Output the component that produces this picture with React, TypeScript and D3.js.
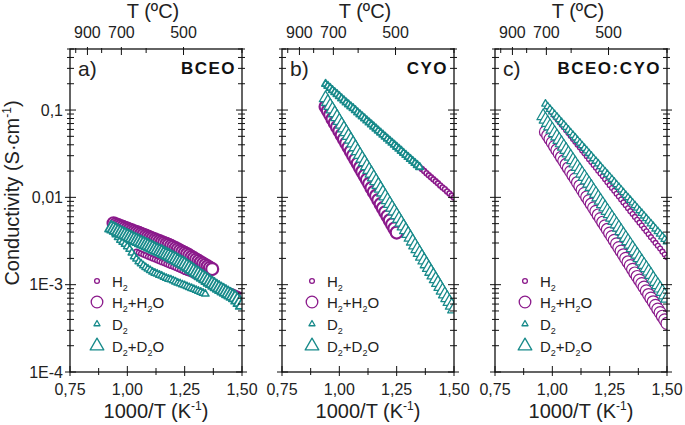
import React from "react";
import * as d3 from "d3";

// ---------- axis / text data ----------
const xTicks = [0.75, 1.0, 1.25, 1.5];
const xTickLabels = ["0,75", "1,00", "1,25", "1,50"];
const xMinorTicks = [0.875, 1.125, 1.375];
const yTicks = [1e-4, 1e-3, 1e-2, 1e-1];
const yTickLabels = ["1E-4", "1E-3", "0,01", "0,1"];
const topTemps = [1000, 900, 800, 700, 600, 500, 400];
const topTempPos = [0.775, 0.826, 0.888, 0.974, 1.082, 1.245, 1.5];
const topTempLabeled = [900, 700, 500];
const panelLetters = ["a)", "b)", "c)"];
const panelNames = ["BCEO", "CYO", "BCEO:CYO"];
const legendLabels: [string, boolean][][] = [
  [["H", false], ["2", true]],
  [["H", false], ["2", true], ["+H", false], ["2", true], ["O", false]],
  [["D", false], ["2", true]],
  [["D", false], ["2", true], ["+D", false], ["2", true], ["O", false]],
];

// ---------- panel a) BCEO ----------
const aH2X = [1.04, 1.05, 1.06, 1.07, 1.08, 1.09, 1.1, 1.11, 1.12, 1.13, 1.14, 1.15, 1.16, 1.17, 1.18, 1.19, 1.2, 1.21, 1.22, 1.23, 1.24, 1.25, 1.26, 1.27, 1.28, 1.29, 1.3, 1.31, 1.32, 1.33, 1.34, 1.35, 1.36, 1.37, 1.38, 1.39, 1.4, 1.41, 1.42, 1.43, 1.44, 1.45, 1.46, 1.47, 1.48, 1.49, 1.5];
const aH2Y = [0.00239, 0.00233, 0.00227, 0.00221, 0.00216, 0.0021, 0.00205, 0.002, 0.00195, 0.0019, 0.00186, 0.00181, 0.00177, 0.00172, 0.00168, 0.00164, 0.0016, 0.00156, 0.00152, 0.00148, 0.00144, 0.0014, 0.00137, 0.00134, 0.00131, 0.00127, 0.00124, 0.00121, 0.00118, 0.00115, 0.00112, 0.0011, 0.00107, 0.00104, 0.00101, 0.000988, 0.000966, 0.000942, 0.000918, 0.000895, 0.000873, 0.000851, 0.00083, 0.000809, 0.000789, 0.000769, 0.00075];
const aH2H2OX = [0.94, 0.95, 0.96, 0.97, 0.98, 0.99, 1.0, 1.01, 1.02, 1.03, 1.04, 1.05, 1.06, 1.07, 1.08, 1.09, 1.1, 1.11, 1.12, 1.13, 1.14, 1.15, 1.16, 1.17, 1.18, 1.19, 1.2, 1.21, 1.22, 1.23, 1.24, 1.25, 1.26, 1.27, 1.28, 1.29, 1.3, 1.31, 1.32, 1.33, 1.34, 1.35, 1.36, 1.37];
const aH2H2OY = [0.00505, 0.00492, 0.0048, 0.00469, 0.00458, 0.00448, 0.00438, 0.00428, 0.00418, 0.00409, 0.004, 0.00391, 0.00382, 0.00373, 0.00364, 0.00355, 0.00346, 0.00338, 0.0033, 0.00322, 0.00315, 0.00307, 0.003, 0.00293, 0.00286, 0.00278, 0.0027, 0.00262, 0.00254, 0.00246, 0.00238, 0.00231, 0.00224, 0.00216, 0.00208, 0.00201, 0.00194, 0.00187, 0.0018, 0.00174, 0.00168, 0.00162, 0.00156, 0.00151];
const aD2X = [0.93, 0.94, 0.95, 0.96, 0.97, 0.98, 0.99, 1.0, 1.01, 1.02, 1.03, 1.04, 1.05, 1.06, 1.07, 1.08, 1.09, 1.1, 1.11, 1.12, 1.13, 1.14, 1.15, 1.16, 1.17, 1.18, 1.19, 1.2, 1.21, 1.22, 1.23, 1.24, 1.25, 1.26, 1.27, 1.28, 1.29, 1.3, 1.31, 1.32, 1.33, 1.34];
const aD2Y = [0.0044, 0.00406, 0.00374, 0.00349, 0.00325, 0.00308, 0.00291, 0.00273, 0.00255, 0.00232, 0.0021, 0.00197, 0.00184, 0.00174, 0.00165, 0.00158, 0.00152, 0.00146, 0.0014, 0.00136, 0.00133, 0.00129, 0.00126, 0.00122, 0.00119, 0.00116, 0.00114, 0.00111, 0.00108, 0.00105, 0.00103, 0.001, 0.00098, 0.000956, 0.000932, 0.00091, 0.000887, 0.000866, 0.000845, 0.000824, 0.000803, 0.000784];
const aD2D2OX = [0.93, 0.94, 0.95, 0.96, 0.97, 0.98, 0.99, 1.0, 1.01, 1.02, 1.03, 1.04, 1.05, 1.06, 1.07, 1.08, 1.09, 1.1, 1.11, 1.12, 1.13, 1.14, 1.15, 1.16, 1.17, 1.18, 1.19, 1.2, 1.21, 1.22, 1.23, 1.24, 1.25, 1.26, 1.27, 1.28, 1.29, 1.3, 1.31, 1.32, 1.33, 1.34, 1.35, 1.36, 1.37, 1.38, 1.39, 1.4, 1.41, 1.42, 1.43, 1.44, 1.45, 1.46, 1.47, 1.48, 1.49, 1.5];
const aD2D2OY = [0.00446, 0.00433, 0.0042, 0.00407, 0.00395, 0.00383, 0.00372, 0.00361, 0.00351, 0.0034, 0.0033, 0.00321, 0.00312, 0.00303, 0.00294, 0.00286, 0.00279, 0.00271, 0.00263, 0.00255, 0.00248, 0.00241, 0.00235, 0.00228, 0.00222, 0.00215, 0.00208, 0.00201, 0.00195, 0.00188, 0.00182, 0.00176, 0.0017, 0.00163, 0.00157, 0.0015, 0.00144, 0.00138, 0.00133, 0.00127, 0.00122, 0.00117, 0.00112, 0.00107, 0.00103, 0.000988, 0.000948, 0.000913, 0.000879, 0.000849, 0.000819, 0.00079, 0.000762, 0.000736, 0.00071, 0.000666, 0.000624, 0.00058];

// ---------- panel b) CYO ----------
const bH2X = [0.96, 0.97, 0.98, 0.99, 1.0, 1.01, 1.02, 1.03, 1.04, 1.05, 1.06, 1.07, 1.08, 1.09, 1.1, 1.11, 1.12, 1.13, 1.14, 1.15, 1.16, 1.17, 1.18, 1.19, 1.2, 1.21, 1.22, 1.23, 1.24, 1.25, 1.26, 1.27, 1.28, 1.29, 1.3, 1.31, 1.32, 1.33, 1.34, 1.35, 1.36, 1.37, 1.38, 1.39, 1.4, 1.41, 1.42, 1.43, 1.44, 1.45, 1.46, 1.47, 1.48, 1.49, 1.5];
const bH2Y = [0.179, 0.169, 0.16, 0.152, 0.144, 0.136, 0.129, 0.122, 0.116, 0.11, 0.105, 0.0994, 0.094, 0.0891, 0.0845, 0.0801, 0.0759, 0.072, 0.0682, 0.0646, 0.0613, 0.0581, 0.0551, 0.0522, 0.0495, 0.0469, 0.0445, 0.0422, 0.04, 0.0379, 0.036, 0.0341, 0.0323, 0.0306, 0.029, 0.0275, 0.0261, 0.0247, 0.0234, 0.0222, 0.0211, 0.02, 0.0189, 0.0179, 0.017, 0.0161, 0.0153, 0.0145, 0.0137, 0.013, 0.0124, 0.0117, 0.0111, 0.0105, 0.00998];
const bH2H2OX = [0.94, 0.95, 0.96, 0.97, 0.98, 0.99, 1.0, 1.01, 1.02, 1.03, 1.04, 1.05, 1.06, 1.07, 1.08, 1.09, 1.1, 1.11, 1.12, 1.13, 1.14, 1.15, 1.16, 1.17, 1.18, 1.19, 1.2, 1.21, 1.22, 1.23, 1.24, 1.25];
const bH2H2OY = [0.109, 0.098, 0.0881, 0.0791, 0.0711, 0.0639, 0.0574, 0.0516, 0.0463, 0.0416, 0.0374, 0.0336, 0.0302, 0.0271, 0.0244, 0.0219, 0.0197, 0.0177, 0.0159, 0.0143, 0.0128, 0.0115, 0.0104, 0.00932, 0.00836, 0.00751, 0.00675, 0.00607, 0.00545, 0.0049, 0.0044, 0.00395];
const bD2X = [0.94, 0.95, 0.96, 0.97, 0.98, 0.99, 1.0, 1.01, 1.02, 1.03, 1.04, 1.05, 1.06, 1.07, 1.08, 1.09, 1.1, 1.11, 1.12, 1.13, 1.14, 1.15, 1.16, 1.17, 1.18, 1.19, 1.2, 1.21, 1.22, 1.23, 1.24, 1.25, 1.26, 1.27, 1.28, 1.29, 1.3, 1.31, 1.32, 1.33, 1.34, 1.35];
const bD2Y = [0.199, 0.189, 0.179, 0.169, 0.16, 0.152, 0.144, 0.136, 0.129, 0.122, 0.116, 0.11, 0.105, 0.0994, 0.094, 0.0891, 0.0845, 0.0801, 0.0759, 0.072, 0.0682, 0.0646, 0.0613, 0.0581, 0.0551, 0.0522, 0.0495, 0.0469, 0.0445, 0.0422, 0.04, 0.0379, 0.036, 0.0341, 0.0323, 0.0306, 0.029, 0.0275, 0.0261, 0.0247, 0.0234, 0.0222];
const bD2D2OX = [0.94, 0.95, 0.96, 0.97, 0.98, 0.99, 1.0, 1.01, 1.02, 1.03, 1.04, 1.05, 1.06, 1.07, 1.08, 1.09, 1.1, 1.11, 1.12, 1.13, 1.14, 1.15, 1.16, 1.17, 1.18, 1.19, 1.2, 1.21, 1.22, 1.23, 1.24, 1.25, 1.26, 1.27, 1.28, 1.29, 1.3, 1.31, 1.32, 1.33, 1.34, 1.35, 1.36, 1.37, 1.38, 1.39, 1.4, 1.41, 1.42, 1.43, 1.44, 1.45, 1.46, 1.47, 1.48, 1.49, 1.5];
const bD2D2OY = [0.137, 0.124, 0.112, 0.102, 0.0921, 0.0834, 0.0755, 0.0683, 0.0618, 0.056, 0.0507, 0.0459, 0.0416, 0.0376, 0.034, 0.0308, 0.0279, 0.0253, 0.0229, 0.0207, 0.0188, 0.017, 0.0154, 0.0139, 0.0126, 0.0114, 0.0103, 0.00933, 0.00846, 0.00766, 0.00693, 0.00628, 0.00569, 0.00515, 0.00466, 0.00422, 0.00382, 0.00346, 0.00313, 0.00283, 0.00256, 0.00232, 0.0021, 0.0019, 0.00172, 0.00156, 0.00141, 0.00128, 0.00116, 0.00105, 0.000948, 0.000859, 0.000778, 0.000704, 0.000637, 0.000577, 0.000523];

// ---------- panel c) BCEO:CYO ----------
const cH2X = [0.98, 0.99, 1.0, 1.01, 1.02, 1.03, 1.04, 1.05, 1.06, 1.07, 1.08, 1.09, 1.1, 1.11, 1.12, 1.13, 1.14, 1.15, 1.16, 1.17, 1.18, 1.19, 1.2, 1.21, 1.22, 1.23, 1.24, 1.25, 1.26, 1.27, 1.28, 1.29, 1.3, 1.31, 1.32, 1.33, 1.34, 1.35, 1.36, 1.37, 1.38, 1.39, 1.4, 1.41, 1.42, 1.43, 1.44, 1.45, 1.46, 1.47, 1.48, 1.49, 1.5];
const cH2Y = [0.108, 0.1, 0.0929, 0.0861, 0.0798, 0.0739, 0.0684, 0.0634, 0.0587, 0.0544, 0.0504, 0.0467, 0.0433, 0.0401, 0.0372, 0.0345, 0.0319, 0.0296, 0.0274, 0.0254, 0.0235, 0.0218, 0.0202, 0.0187, 0.0174, 0.0161, 0.0149, 0.0138, 0.0128, 0.0119, 0.011, 0.0102, 0.00944, 0.00875, 0.00811, 0.00751, 0.00695, 0.00644, 0.00597, 0.00553, 0.00513, 0.00475, 0.0044, 0.00408, 0.00378, 0.0035, 0.00325, 0.00301, 0.00279, 0.00259, 0.00239, 0.00221, 0.00206];
const cH2H2OX = [0.97, 0.98, 0.99, 1.0, 1.01, 1.02, 1.03, 1.04, 1.05, 1.06, 1.07, 1.08, 1.09, 1.1, 1.11, 1.12, 1.13, 1.14, 1.15, 1.16, 1.17, 1.18, 1.19, 1.2, 1.21, 1.22, 1.23, 1.24, 1.25, 1.26, 1.27, 1.28, 1.29, 1.3, 1.31, 1.32, 1.33, 1.34, 1.35, 1.36, 1.37, 1.38, 1.39, 1.4, 1.41, 1.42, 1.43, 1.44, 1.45, 1.46, 1.47, 1.48, 1.49, 1.5];
const cH2H2OY = [0.0562, 0.0511, 0.0465, 0.0423, 0.0384, 0.0349, 0.0317, 0.0288, 0.0262, 0.0238, 0.0217, 0.0197, 0.0179, 0.0163, 0.0148, 0.0135, 0.0122, 0.0111, 0.0101, 0.00918, 0.00835, 0.00759, 0.00691, 0.00628, 0.00571, 0.00519, 0.00472, 0.00429, 0.0039, 0.00355, 0.00322, 0.00293, 0.00266, 0.00242, 0.0022, 0.002, 0.00182, 0.00165, 0.0015, 0.00136, 0.00124, 0.00113, 0.00103, 0.000936, 0.000848, 0.000771, 0.000701, 0.000637, 0.000579, 0.000526, 0.000479, 0.000435, 0.000396, 0.00036];
const cD2X = [0.97, 0.98, 0.99, 1.0, 1.01, 1.02, 1.03, 1.04, 1.05, 1.06, 1.07, 1.08, 1.09, 1.1, 1.11, 1.12, 1.13, 1.14, 1.15, 1.16, 1.17, 1.18, 1.19, 1.2, 1.21, 1.22, 1.23, 1.24, 1.25, 1.26, 1.27, 1.28, 1.29, 1.3, 1.31, 1.32, 1.33, 1.34, 1.35, 1.36, 1.37, 1.38, 1.39, 1.4, 1.41, 1.42, 1.43, 1.44, 1.45, 1.46, 1.47, 1.48, 1.49, 1.5];
const cD2Y = [0.1175, 0.1097, 0.1023, 0.0955, 0.0893, 0.0834, 0.0778, 0.0726, 0.0679, 0.0634, 0.0592, 0.0553, 0.0516, 0.0482, 0.045, 0.042, 0.0392, 0.0366, 0.0342, 0.0319, 0.0298, 0.0278, 0.026, 0.0243, 0.0226, 0.0211, 0.0197, 0.0184, 0.0172, 0.0161, 0.015, 0.014, 0.0131, 0.0122, 0.0114, 0.0106, 0.00993, 0.00927, 0.00866, 0.00809, 0.00755, 0.00705, 0.00658, 0.00614, 0.00574, 0.00536, 0.005, 0.00467, 0.00436, 0.00407, 0.0038, 0.00355, 0.00331, 0.0031];
const cD2D2OX = [0.96, 0.97, 0.98, 0.99, 1.0, 1.01, 1.02, 1.03, 1.04, 1.05, 1.06, 1.07, 1.08, 1.09, 1.1, 1.11, 1.12, 1.13, 1.14, 1.15, 1.16, 1.17, 1.18, 1.19, 1.2, 1.21, 1.22, 1.23, 1.24, 1.25, 1.26, 1.27, 1.28, 1.29, 1.3, 1.31, 1.32, 1.33, 1.34, 1.35, 1.36, 1.37, 1.38, 1.39, 1.4, 1.41, 1.42, 1.43, 1.44, 1.45, 1.46, 1.47, 1.48, 1.49, 1.5];
const cD2D2OY = [0.0853, 0.078, 0.0714, 0.0653, 0.0598, 0.0547, 0.05, 0.0457, 0.0418, 0.0382, 0.035, 0.032, 0.0293, 0.0268, 0.0245, 0.0224, 0.0205, 0.0188, 0.0172, 0.0157, 0.0144, 0.0132, 0.012, 0.011, 0.01005, 0.00919, 0.00841, 0.00769, 0.00704, 0.00644, 0.00589, 0.00539, 0.00493, 0.00451, 0.00412, 0.00377, 0.00345, 0.00316, 0.00289, 0.00264, 0.00242, 0.00221, 0.00202, 0.00185, 0.00169, 0.00155, 0.00142, 0.0013, 0.00118, 0.00108, 0.000991, 0.000907, 0.000829, 0.000758, 0.000694];

const panelSeries = [
  [[aH2X, aH2Y], [aH2H2OX, aH2H2OY], [aD2X, aD2Y], [aD2D2OX, aD2D2OY]],
  [[bH2X, bH2Y], [bH2H2OX, bH2H2OY], [bD2X, bD2Y], [bD2D2OX, bD2D2OY]],
  [[cH2X, cH2Y], [cH2H2OX, cH2H2OY], [cD2X, cD2Y], [cD2D2OX, cD2D2OY]],
];

// ---------- layout / style ----------
const W = 685;
const H = 425;
const panelLeft = [70, 282, 495];
const plotW = 172;
const plotTop = 49;
const plotBottom = 372;
const legendMarkerOffset = [27, 30, 30];
const purple = "#8b1a8b";
const teal = "#178a8a";
const seriesColor = [purple, purple, teal, teal];
// marker outline widths per panel / series (denser data look more solid)
const markerStroke = [
  [1.5, 2.2, 1.5, 1.8],
  [1.6, 2.2, 1.8, 1.3],
  [1.3, 1.2, 1.3, 1.2],
];
const FONT = "'Liberation Sans', Arial, sans-serif";

const triSmall = d3.symbol(d3.symbolTriangle, 24)() as string;
const triBig = d3.symbol(d3.symbolTriangle, 68)() as string;
const triLegSmall = d3.symbol(d3.symbolTriangle, 16)() as string;
const triLegBig = d3.symbol(d3.symbolTriangle, 80)() as string;

function Marker({ kind, x, y, legend, sw }: { kind: number; x: number; y: number; legend?: boolean; sw: number }) {
  const c = seriesColor[kind];
  if (kind === 0) return <circle cx={x} cy={y} r={2.4} fill="white" stroke={c} strokeWidth={sw} />;
  if (kind === 1) return <circle cx={x} cy={y} r={legend ? 5.8 : 6} fill="white" stroke={c} strokeWidth={sw} />;
  if (kind === 2)
    return <path d={legend ? triLegSmall : triSmall} transform={`translate(${x},${y})`} fill="white" stroke={c} strokeWidth={sw} strokeLinejoin="round" />;
  return <path d={legend ? triLegBig : triBig} transform={`translate(${x},${y})`} fill="white" stroke={c} strokeWidth={sw} strokeLinejoin="round" />;
}

function LegendText({ parts, x, y }: { parts: [string, boolean][]; x: number; y: number }) {
  let prevSub = false;
  return (
    <text x={x} y={y} fontSize={15} fontFamily={FONT} fill="#222">
      {parts.map(([t, sub], i) => {
        let dy = 0;
        if (sub && !prevSub) dy = 4;
        if (!sub && prevSub) dy = -4;
        prevSub = sub;
        return (
          <tspan key={i} dy={dy} fontSize={sub ? 9 : 15}>
            {t}
          </tspan>
        );
      })}
    </text>
  );
}

function Panel({ idx }: { idx: number }) {
  const left = panelLeft[idx];
  const right = left + plotW;
  const x = d3.scaleLinear().domain([0.75, 1.5]).range([left, right]);
  const y = d3.scaleLog().domain([1e-4, 0.5]).range([plotBottom, plotTop]);
  const yAll = y.ticks();
  const isMajorY = (v: number) => Math.abs(Math.log10(v) - Math.round(Math.log10(v))) < 1e-6;
  const clipId = `clip${idx}`;
  const cx = (left + right) / 2;
  const legX = left + legendMarkerOffset[idx];
  const legRows = [281, 302, 324, 346];

  return (
    <g>
      <defs>
        <clipPath id={clipId}>
          <rect x={left} y={plotTop} width={plotW} height={plotBottom - plotTop} />
        </clipPath>
      </defs>

      <g clipPath={`url(#${clipId})`}>
        {panelSeries[idx].map(([xs, ys], k) => (
          <g key={k}>
            {xs.slice(0, ys.length).map((xv, i) => (
              <Marker key={i} kind={k} x={x(xv)} y={y(ys[i])} sw={markerStroke[idx][k]} />
            ))}
          </g>
        ))}
      </g>

      <rect x={left} y={plotTop} width={plotW} height={plotBottom - plotTop} fill="none" stroke="#111" strokeWidth={1.3} />

      {yAll.map((v, i) => {
        const yy = y(v);
        const maj = isMajorY(v);
        const o = maj ? 5 : 3;
        const n = maj ? 6 : 4;
        return (
          <g key={i} stroke="#111" strokeWidth={1}>
            <line x1={left - o} x2={left + n} y1={yy} y2={yy} />
            <line x1={right - n} x2={right + o} y1={yy} y2={yy} />
          </g>
        );
      })}
      {idx === 0 &&
        yTicks.map((v, i) => (
          <text key={i} x={left - 7} y={y(v)} dy="0.36em" textAnchor="end" fontSize={16} fontFamily={FONT} fill="#222">
            {yTickLabels[i]}
          </text>
        ))}

      {xTicks.map((v, i) => (
        <g key={i}>
          <line x1={x(v)} x2={x(v)} y1={plotBottom - 6} y2={plotBottom + 4} stroke="#111" strokeWidth={1} />
          <text x={x(v)} y={395} textAnchor="middle" fontSize={16} fontFamily={FONT} fill="#222">
            {xTickLabels[i]}
          </text>
        </g>
      ))}
      {xMinorTicks.map((v, i) => (
        <line key={i} x1={x(v)} x2={x(v)} y1={plotBottom - 4} y2={plotBottom + 3} stroke="#111" strokeWidth={1} />
      ))}
      <text x={cx} y={418} textAnchor="middle" fontSize={20} fontFamily={FONT} fill="#222">
        1000/T (K<tspan fontSize={12} dy={-8}>-1</tspan>
        <tspan dy={8}>)</tspan>
      </text>

      {topTemps.map((t, i) => {
        const xx = x(topTempPos[i]);
        const lab = topTempLabeled.includes(t);
        return (
          <g key={i}>
            <line x1={xx} x2={xx} y1={plotTop - (lab ? 2 : 1)} y2={plotTop + (lab ? 6 : 4)} stroke="#111" strokeWidth={1} />
            {lab && (
              <text x={xx} y={38} textAnchor="middle" fontSize={16} fontFamily={FONT} fill="#222">
                {t}
              </text>
            )}
          </g>
        );
      })}
      <text x={cx - 3} y={18} textAnchor="middle" fontSize={20} fontFamily={FONT} fill="#222">
        T (ºC)
      </text>

      <text x={left + 8} y={76} fontSize={21} fontFamily={FONT} fill="#222">
        {panelLetters[idx]}
      </text>
      <text x={right - 6} y={74} textAnchor="end" fontSize={17} fontWeight="bold" letterSpacing={1.5} fontFamily={FONT} fill="#111">
        {panelNames[idx]}
      </text>

      {legRows.map((ly, k) => (
        <g key={k}>
          <Marker kind={k} x={legX} y={ly} legend sw={1.3} />
          <LegendText parts={legendLabels[k]} x={legX + 15} y={ly + 6} />
        </g>
      ))}
    </g>
  );
}

export default function App() {
  return (
    <svg width={W} height={H} style={{ position: "absolute", left: 0, top: 0, background: "white" }}>
      <rect x={0} y={0} width={W} height={H} fill="white" />
      {[0, 1, 2].map((i) => (
        <Panel key={i} idx={i} />
      ))}
      <text transform="translate(19,193) rotate(-90)" textAnchor="middle" fontSize={20} fontFamily={FONT} fill="#222">
        Conductivity (S·cm<tspan fontSize={12} dy={-8}>-1</tspan>
        <tspan dy={8}>)</tspan>
      </text>
    </svg>
  );
}
